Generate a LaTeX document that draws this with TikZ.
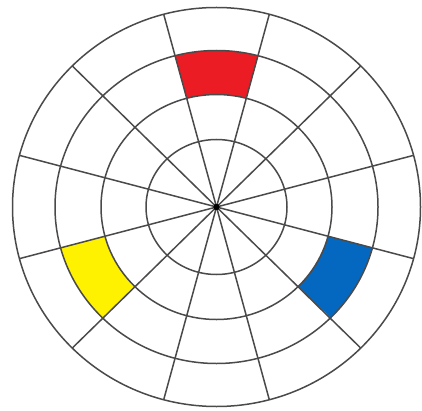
\documentclass[tikz,border=0pt]{standalone}
\usetikzlibrary{calc}
\definecolor{wheelred}{HTML}{EC1C24}
\definecolor{wheelyellow}{HTML}{FFF200}
\definecolor{wheelblue}{HTML}{0568C0}
\definecolor{wheelline}{HTML}{4A4A4A}
\tikzset{
  ringline/.style={draw=wheelline, line width=1.5pt},
  spokeline/.style={draw=wheelline, line width=1.5pt},
}
\begin{document}
\begin{tikzpicture}[x=1pt,y=1pt]
\useasboundingbox (0,0) rectangle (422,410);
\fill[white] (0,0) rectangle (422,410);
\coordinate (c) at (216.5,203);
% coloured segments (between ring 2 and ring 3)
\foreach \a/\col in {75/wheelred, 195/wheelyellow, 315/wheelblue}{
  \pgfmathsetmacro{\b}{\a+30}
  \fill[\col] ($(c)+(\a:161.5pt and 156.5pt)$)
    arc[start angle=\a, end angle=\b, x radius=161.5pt, y radius=156.5pt]
    -- ($(c)+(\b:115.5pt and 112.5pt)$)
    arc[start angle=\b, end angle=\a, x radius=115.5pt, y radius=112.5pt]
    -- cycle;
}
% rings
\draw[ringline] (c) ellipse[x radius=70.5pt, y radius=67.5pt];
\draw[ringline] (c) ellipse[x radius=115.5pt, y radius=112.5pt];
\draw[ringline] (c) ellipse[x radius=161.5pt, y radius=156.5pt];
\draw[ringline] (c) ellipse[x radius=204pt, y radius=199.5pt];
% spokes
\foreach \a in {15,45,...,345}{
  \draw[spokeline] (c) -- ($(c)+(\a:204pt and 199.5pt)$);
}
% centre dot
\fill[black] (c) circle[radius=3.2pt];
\end{tikzpicture}
\end{document}
